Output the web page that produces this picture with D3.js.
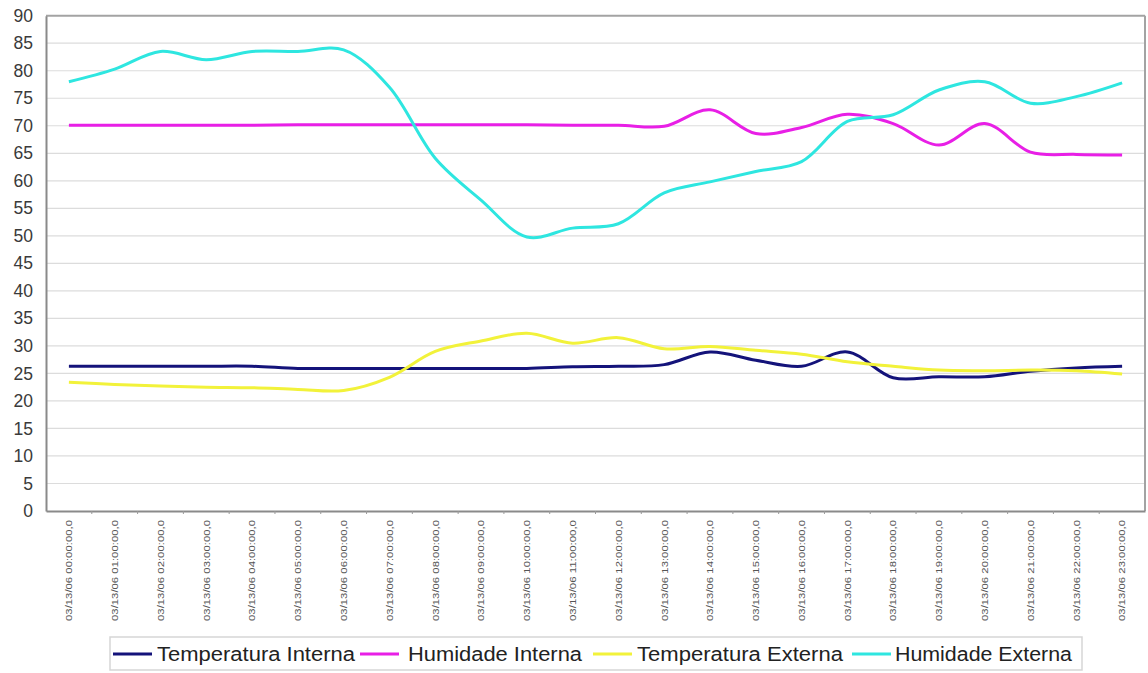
<!DOCTYPE html>
<html>
<head>
<meta charset="utf-8">
<script src="https://cdn.jsdelivr.net/npm/d3@7"></script>
<style>
  html, body { margin: 0; padding: 0; background: #fff; }
  svg { display: block; font-family: "Liberation Sans", Arial, sans-serif; }
</style>
</head>
<body>
<svg id="chart" width="1148" height="673"></svg>
<script>
const categories = [
  "03/13/06 00:00:00,0","03/13/06 01:00:00,0","03/13/06 02:00:00,0","03/13/06 03:00:00,0",
  "03/13/06 04:00:00,0","03/13/06 05:00:00,0","03/13/06 06:00:00,0","03/13/06 07:00:00,0",
  "03/13/06 08:00:00,0","03/13/06 09:00:00,0","03/13/06 10:00:00,0","03/13/06 11:00:00,0",
  "03/13/06 12:00:00,0","03/13/06 13:00:00,0","03/13/06 14:00:00,0","03/13/06 15:00:00,0",
  "03/13/06 16:00:00,0","03/13/06 17:00:00,0","03/13/06 18:00:00,0","03/13/06 19:00:00,0",
  "03/13/06 20:00:00,0","03/13/06 21:00:00,0","03/13/06 22:00:00,0","03/13/06 23:00:00,0"
];
const temperaturaInterna = [26.3,26.3,26.3,26.3,26.3,25.9,25.9,25.9,25.9,25.9,25.9,26.2,26.3,26.6,28.9,27.4,26.3,28.9,24.2,24.4,24.4,25.4,26.0,26.3];
const humidadeInterna   = [70.1,70.1,70.1,70.1,70.1,70.2,70.2,70.2,70.2,70.2,70.2,70.1,70.1,69.9,72.9,68.6,69.7,72.1,70.4,66.5,70.4,65.2,64.8,64.7];
const temperaturaExterna = [23.4,23.0,22.7,22.5,22.4,22.1,21.9,24.3,29.0,30.9,32.3,30.5,31.5,29.5,29.9,29.2,28.5,27.1,26.3,25.6,25.5,25.6,25.5,24.9];
const humidadeExterna   = [78.0,80.3,83.5,82.0,83.5,83.5,83.8,77.0,64.1,56.5,49.8,51.4,52.2,57.8,59.8,61.7,63.5,70.8,72.0,76.5,78.0,74.1,75.3,77.8];
const seriesNames = ["Temperatura Interna","Humidade Interna","Temperatura Externa","Humidade Externa"];
const seriesColors = ["#14137a","#e81fe6","#f2f23a","#2ee6e0"];
const yTicks = [0,5,10,15,20,25,30,35,40,45,50,55,60,65,70,75,80,85,90];

const series = [temperaturaInterna, humidadeInterna, temperaturaExterna, humidadeExterna]
  .map((v, i) => ({ name: seriesNames[i], color: seriesColors[i], values: v }));

const svg = d3.select("#chart");
const L = 46, R = 1145, T = 15.7, B = 511;

const x = d3.scaleBand().domain(categories).range([L, R]).padding(0);
const y = d3.scaleLinear().domain([0, 90]).range([B, T]);

// gridlines
svg.append("g").selectAll("line").data(yTicks.filter(d => d > 0 && d < 90)).join("line")
  .attr("x1", L).attr("x2", R).attr("y1", d => y(d)).attr("y2", d => y(d))
  .attr("stroke", "#dcdcdc").attr("stroke-width", 1.2);

// frame top/right
svg.append("line").attr("x1", L).attr("x2", R).attr("y1", T).attr("y2", T).attr("stroke", "#a3a3a3").attr("stroke-width", 2);
svg.append("line").attr("x1", R).attr("x2", R).attr("y1", T).attr("y2", B).attr("stroke", "#a3a3a3").attr("stroke-width", 2);

// y axis
const yAxis = d3.axisLeft(y).tickValues(yTicks).tickSize(0).tickPadding(13);
const gy = svg.append("g").attr("transform", `translate(${L},0)`).call(yAxis);
gy.select(".domain").attr("stroke", "#8a8a8a").attr("stroke-width", 2);
gy.selectAll("text").attr("font-size", 17.5).attr("fill", "#3a3a3a")
  .attr("font-family", "'Liberation Sans', Arial, sans-serif");

// x axis
const xAxis = d3.axisBottom(x).tickSize(0).tickPadding(0);
const gx = svg.append("g").attr("transform", `translate(0,${B})`).call(xAxis);
gx.select(".domain").attr("stroke", "#8a8a8a").attr("stroke-width", 2);
gx.selectAll(".tick text")
  .attr("font-size", 9.5).attr("fill", "#555")
  .attr("font-family", "'Liberation Sans', Arial, sans-serif")
  .attr("text-anchor", "end")
  .attr("dy", "0.35em")
  .attr("transform", "translate(0,9) rotate(-90)")
  .attr("x", 0).attr("y", 0)
  .attr("textLength", 101).attr("lengthAdjust", "spacingAndGlyphs");
// small boundary ticks
svg.append("g").selectAll("line").data(categories.slice(1)).join("line")
  .attr("x1", d => x(d)).attr("x2", d => x(d)).attr("y1", B).attr("y2", B + 3)
  .attr("stroke", "#9a9a9a").attr("stroke-width", 1);

// lines
const line = d3.line()
  .x((d, i) => x(categories[i]) + x.bandwidth() / 2)
  .y(d => y(d))
  .curve(d3.curveCatmullRom.alpha(0.5));

svg.append("g").selectAll("path").data(series).join("path")
  .attr("d", d => line(d.values))
  .attr("fill", "none")
  .attr("stroke", d => d.color)
  .attr("stroke-width", 3)
  .attr("stroke-linejoin", "round");

// legend
const legend = svg.append("g");
legend.append("rect").attr("x", 110).attr("y", 637).attr("width", 972).attr("height", 33)
  .attr("fill", "#fff").attr("stroke", "#d6d6d6").attr("stroke-width", 1.5);
const legendPos = [
  { lx: 113, tx: 157, tw: 198 },
  { lx: 360, tx: 408, tw: 174 },
  { lx: 593, tx: 637, tw: 206 },
  { lx: 852, tx: 895, tw: 177 }
];
series.forEach((s, i) => {
  const p = legendPos[i];
  legend.append("line").attr("x1", p.lx).attr("x2", p.lx + 39).attr("y1", 654).attr("y2", 654)
    .attr("stroke", s.color).attr("stroke-width", 3);
  legend.append("text").attr("x", p.tx).attr("y", 661).text(s.name)
    .attr("font-size", 20).attr("fill", "#222")
    .attr("textLength", p.tw).attr("lengthAdjust", "spacingAndGlyphs");
});
</script>
</body>
</html>
